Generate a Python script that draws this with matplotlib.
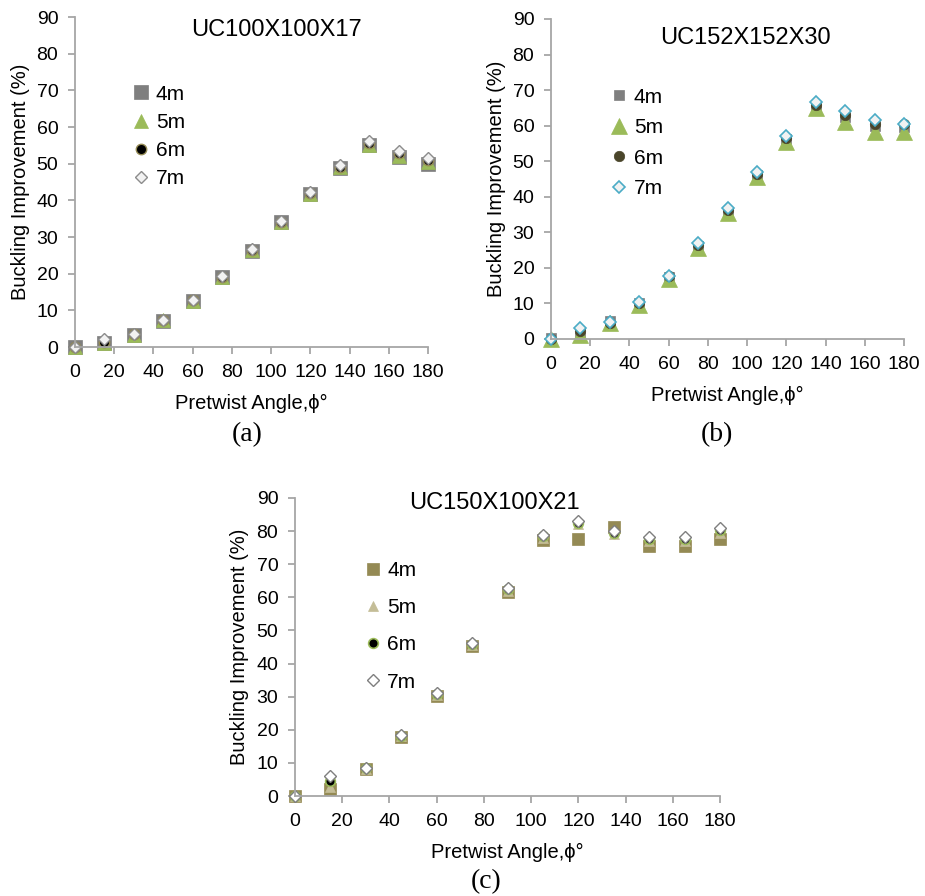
import matplotlib
matplotlib.use("Agg")
import matplotlib.pyplot as plt

plt.rcParams['font.family'] = ['Liberation Sans', 'DejaVu Sans']

angles = [0, 15, 30, 45, 60, 75, 90, 105, 120, 135, 150, 165, 180]
x_ticks = [0, 20, 40, 60, 80, 100, 120, 140, 160, 180]
y_ticks = [0, 10, 20, 30, 40, 50, 60, 70, 80, 90]
series_labels = ["4m", "5m", "6m", "7m"]

# (a) UC100X100X17
a_4m = [0, 1.2, 3.4, 7.2, 12.6, 19.0, 26.3, 34.0, 41.6, 48.8, 55.0, 51.8, 50.0]
a_5m = [0, 1.0, 3.3, 7.3, 12.6, 19.2, 26.4, 34.2, 41.7, 49.0, 55.2, 52.2, 50.4]
a_6m = [0, 1.5, 3.5, 7.4, 12.7, 19.2, 26.5, 34.2, 41.9, 49.2, 55.7, 52.8, 50.9]
a_7m = [0, 2.3, 3.5, 7.5, 12.9, 19.4, 26.8, 34.5, 42.2, 49.6, 56.3, 53.4, 51.6]

# (b) UC152X152X30
b_4m = [0.3, 2.0, 5.0, 10.2, 17.5, 26.2, 35.8, 46.2, 56.2, 65.5, 62.5, 59.8, 59.5]
b_5m = [0, 1.1, 4.4, 9.6, 17.0, 25.7, 35.3, 45.6, 55.5, 64.9, 61.0, 58.3, 58.3]
b_6m = [0, 2.2, 4.6, 10.1, 17.6, 26.4, 36.2, 46.5, 56.5, 65.8, 63.0, 60.4, 60.4]
b_7m = [0, 3.2, 4.7, 10.3, 17.8, 26.9, 36.7, 47.0, 57.2, 66.7, 64.1, 61.6, 60.6]

# (c) UC150X100X21
c_4m = [0, 2.0, 8.3, 17.9, 30.2, 45.3, 61.5, 77.4, 77.6, 81.2, 75.4, 75.4, 77.7]
c_5m = [0, 2.7, 8.3, 18.0, 30.5, 45.6, 62.0, 78.0, 82.0, 79.0, 77.0, 77.0, 79.4]
c_6m = [0, 4.4, 8.4, 18.2, 30.8, 46.0, 62.4, 78.5, 82.5, 79.5, 77.5, 77.5, 80.2]
c_7m = [0, 6.1, 8.5, 18.4, 31.2, 46.3, 62.8, 78.9, 83.1, 79.9, 78.1, 78.1, 80.8]

titles = ["UC100X100X17", "UC152X152X30", "UC150X100X21"]
captions = ["(a)", "(b)", "(c)"]

GRAY = '#A6A6A6'

fig = plt.figure(figsize=(9.25, 8.96), dpi=100)

panels = [
    dict(rect=[0.0811, 0.6127, 0.3816, 0.3683], data=[a_4m, a_5m, a_6m, a_7m],
         styles=[dict(marker='s', ms=10, mfc='#7F7F7F', mec='#7F7F7F', mew=0.5),
                 dict(marker='^', ms=10.5, mfc='#9BBB59', mec='#9BBB59', mew=0.5),
                 dict(marker='o', ms=7.5, mfc='black', mec='#948A54', mew=1.0),
                 dict(marker='D', ms=6.5, mfc='#F2F2F2', mec='#8C8C8C', mew=1.0)],
         title_xy=(0.572, 0.96), leg_anchor=(0.164, 0.795), leg_spacing=0.44,
         caption_xy=(247, 435)),
    dict(rect=[0.5957, 0.6217, 0.3816, 0.3571], data=[b_4m, b_5m, b_6m, b_7m],
         styles=[dict(marker='s', ms=7.5, mfc='#7F7F7F', mec='#7F7F7F', mew=0.5),
                 dict(marker='^', ms=12, mfc='#9BBB59', mec='#9BBB59', mew=0.5),
                 dict(marker='o', ms=7.5, mfc='#4A452A', mec='#4A452A', mew=0.5),
                 dict(marker='D', ms=6.5, mfc='#F2F2F2', mec='#4BACC6', mew=1.2)],
         title_xy=(0.55, 0.94), leg_anchor=(0.17, 0.785), leg_spacing=0.55,
         caption_xy=(717, 435)),
    dict(rect=[0.3189, 0.1116, 0.4595, 0.3326], data=[c_4m, c_5m, c_6m, c_7m],
         styles=[dict(marker='s', ms=8, mfc='#948A54', mec='#948A54', mew=0.5),
                 dict(marker='^', ms=7.5, mfc='#C4BD97', mec='#C4BD97', mew=0.5),
                 dict(marker='o', ms=7, mfc='black', mec='#9BBB59', mew=1.2),
                 dict(marker='D', ms=6.5, mfc='white', mec='#7F7F7F', mew=1.0)],
         title_xy=(0.47, 0.983), leg_anchor=(0.163, 0.788), leg_spacing=0.87,
         caption_xy=(486, 882)),
]

for i, p in enumerate(panels):
    ax = fig.add_axes(p['rect'])
    for vals, st, lab in zip(p['data'], p['styles'], series_labels):
        ax.plot(angles, vals, linestyle='none', label=lab, clip_on=False, **st)
    ax.set_xlim(0, 180)
    ax.set_ylim(0, 90)
    ax.set_xticks(x_ticks)
    ax.set_yticks(y_ticks)
    for s in ['top', 'right']:
        ax.spines[s].set_visible(False)
    for s in ['left', 'bottom']:
        ax.spines[s].set_color(GRAY)
        ax.spines[s].set_linewidth(1.3)
    ax.tick_params(axis='both', colors=GRAY, width=1.3, length=5, labelsize=14,
                   labelcolor='black', direction='out')
    ax.tick_params(axis='y', pad=7)
    ax.tick_params(axis='x', pad=7.5)
    ax.set_xlabel("Pretwist Angle,ϕ°", fontsize=14.5, labelpad=9)
    ax.set_ylabel("Buckling Improvement (%)", fontsize=14.5, labelpad=5)
    ax.text(p['title_xy'][0], p['title_xy'][1], titles[i], transform=ax.transAxes,
            ha='center', va='center', fontsize=17)
    ax.legend(loc='upper left', bbox_to_anchor=p['leg_anchor'], frameon=False,
              fontsize=15, handlelength=0.8, handletextpad=0.3,
              labelspacing=p['leg_spacing'], borderpad=0, borderaxespad=0)
    fig.text(p['caption_xy'][0] / 925, 1 - p['caption_xy'][1] / 896, captions[i],
             ha='center', va='center', fontsize=20, family='Liberation Serif')

fig.savefig("out.png", dpi=100)
